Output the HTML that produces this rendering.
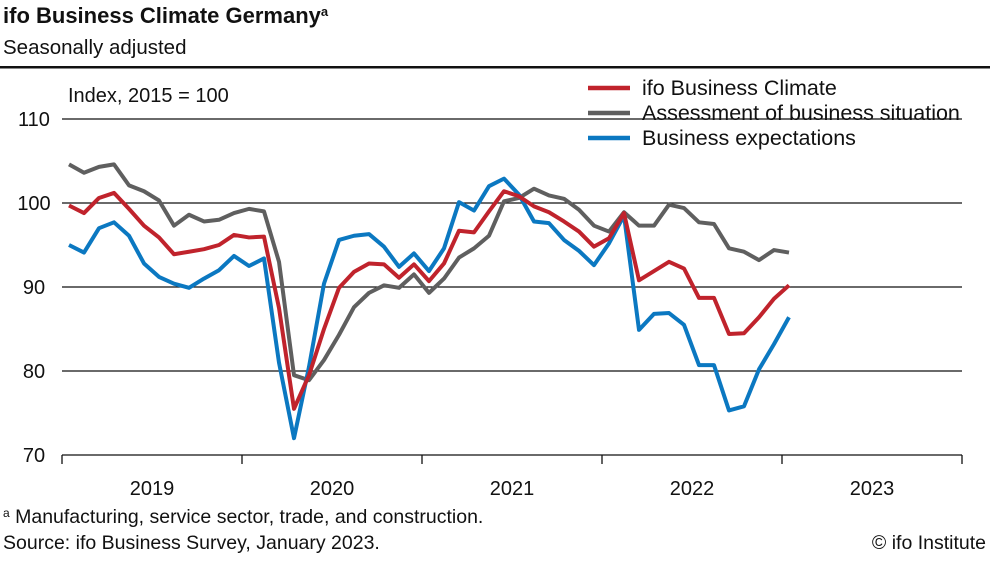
<!DOCTYPE html>
<html><head><meta charset="utf-8"><style>
body{margin:0;background:#fff;width:990px;height:557px;overflow:hidden;font-family:"Liberation Sans",sans-serif;}
svg text{font-family:"Liberation Sans",sans-serif;fill:#111;}
</style></head><body>
<svg id="chart" width="990" height="557" viewBox="0 0 990 557">
<text x="3" y="23" font-size="22" font-weight="bold">ifo Business Climate Germany<tspan font-size="13" dy="-7">a</tspan></text>
<text x="3" y="54" font-size="20.5">Seasonally adjusted</text>
<rect x="0" y="66" width="990" height="2.5" fill="#111"/>
<text x="68" y="102" font-size="20">Index, 2015 = 100</text>
<g id="grid"></g><g id="axis"></g><g id="lines"></g>
<g>
<line x1="588" y1="88" x2="630" y2="88" stroke="#c0232c" stroke-width="4.5"/>
<text x="642" y="95" font-size="21.5">ifo Business Climate</text>
<line x1="588" y1="113" x2="630" y2="113" stroke="#5f5f5f" stroke-width="4.5"/>
<text x="642" y="120" font-size="21.5">Assessment of business situation</text>
<line x1="588" y1="138" x2="630" y2="138" stroke="#0b78c1" stroke-width="4.5"/>
<text x="642" y="145" font-size="21.5">Business expectations</text>
</g>
<text x="3" y="523" font-size="19.5"><tspan font-size="12" dy="-6">a</tspan><tspan dy="6"> Manufacturing, service sector, trade, and construction.</tspan></text>
<text x="3" y="549" font-size="19.5">Source: ifo Business Survey, January 2023.</text>
<text x="986" y="549" font-size="19.5" text-anchor="end">© ifo Institute</text>
</svg>
<script>
const years=["2019","2020","2021","2022","2023"];
const yTicks=[70,80,90,100,110];
const climate=[99.7,98.8,100.6,101.2,99.3,97.3,95.9,93.9,94.2,94.5,95.0,96.2,
95.9,96.0,87.5,75.5,79.5,85.0,89.9,91.8,92.8,92.7,91.1,92.7,
90.7,92.8,96.7,96.5,99.0,101.4,100.8,99.6,98.9,97.8,96.6,94.8,
95.8,98.8,90.8,91.9,93.0,92.2,88.7,88.7,84.4,84.5,86.4,88.6,90.2];
const situation=[104.6,103.6,104.3,104.6,102.1,101.4,100.3,97.3,98.6,97.8,98.0,98.8,
99.3,99.0,93.0,79.5,78.9,81.3,84.3,87.6,89.3,90.2,89.9,91.5,
89.3,91.0,93.5,94.6,96.1,100.2,100.6,101.7,100.9,100.5,99.2,97.3,
96.6,98.9,97.3,97.3,99.8,99.4,97.7,97.5,94.6,94.2,93.2,94.4,94.1];
const expectations=[95.0,94.1,97.0,97.7,96.1,92.8,91.2,90.4,89.9,91.0,92.0,93.7,
92.5,93.4,81.0,72.0,80.5,90.4,95.6,96.1,96.3,94.8,92.4,94.0,
91.9,94.6,100.1,99.1,102.0,102.9,101.0,97.8,97.6,95.6,94.3,92.6,
95.2,98.5,84.9,86.8,86.9,85.5,80.7,80.7,75.3,75.8,80.2,83.2,86.4];
const NS="http://www.w3.org/2000/svg";
const X0=62,YEARW=180;
function xScale(i){return X0+7+i*(YEARW/12);}
function yScale(v){return 455-(v-70)*8.4;}
function mk(t,a){const e=document.createElementNS(NS,t);for(const k in a)e.setAttribute(k,a[k]);return e;}
const grid=document.getElementById('grid'),axis=document.getElementById('axis'),lines=document.getElementById('lines');
yTicks.forEach(v=>{
 if(v>70){const l=mk('line',{x1:X0,x2:962,y1:yScale(v),y2:yScale(v),stroke:'#111','stroke-width':1.3});
 
 
 grid.appendChild(l);}
 const t=mk('text',{x:34,y:yScale(v)+7,'font-size':20,'text-anchor':'middle'});t.textContent=v;
 
 
 axis.appendChild(t);
});
const base=mk('line',{x1:X0,x2:962,y1:455,y2:455,stroke:'#111','stroke-width':1.3});


axis.appendChild(base);
for(let k=0;k<=years.length;k++){
 const x=X0+k*YEARW;
 const tk=mk('line',{x1:x,x2:x,y1:455,y2:464,stroke:'#111','stroke-width':1.3});
 
 
 axis.appendChild(tk);
 if(k<years.length){const t=mk('text',{x:x+YEARW/2,y:495,'font-size':20,'text-anchor':'middle'});t.textContent=years[k];
 
 
 axis.appendChild(t);}
}
function series(arr,color,name){
 const p=mk('polyline',{points:arr.map((v,i)=>xScale(i)+','+yScale(v)).join(' '),fill:'none',stroke:color,'stroke-width':4,'stroke-linejoin':'round'});
 
 
 lines.appendChild(p);
}
series(situation,'#5f5f5f','line-business-situation');
series(expectations,'#0b78c1','line-business-expectations');
series(climate,'#c0232c','line-business-climate');
</script>
</body></html>
